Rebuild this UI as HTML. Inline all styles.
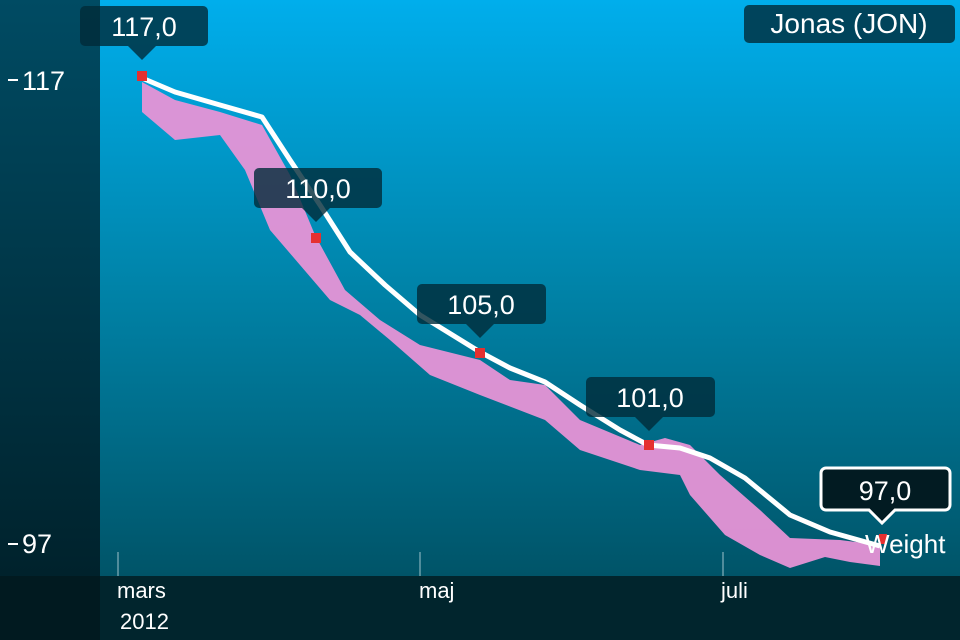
<!DOCTYPE html><html><head><style>
body{margin:0;width:960px;height:640px;overflow:hidden;font-family:"Liberation Sans",sans-serif}
</style></head><body>
<svg width="960" height="640" xmlns="http://www.w3.org/2000/svg" style="display:block">
<defs>
<linearGradient id="bg" x1="0" y1="0" x2="0" y2="1"><stop offset="0" stop-color="#00aeec"/><stop offset="0.5" stop-color="#0083a8"/><stop offset="1" stop-color="#005468"/></linearGradient>
<linearGradient id="lp" x1="0" y1="0" x2="0" y2="1"><stop offset="0" stop-color="#004b63"/><stop offset="1" stop-color="#00222c"/></linearGradient>
</defs>
<rect x="100" y="0" width="860" height="576" fill="url(#bg)"/>
<rect x="0" y="0" width="100" height="576" fill="url(#lp)"/>
<rect x="0" y="576" width="960" height="64" fill="#01252d"/>
<rect x="0" y="576" width="100" height="64" fill="#011a20"/>
<g stroke="#fff" stroke-width="2"><line x1="8" y1="80" x2="18" y2="80"/><line x1="8" y1="544" x2="18" y2="544"/></g>
<g fill="#fff" font-size="27"><text x="22" y="90">117</text><text x="22" y="553">97</text></g>
<g stroke="#9fc3cc" stroke-width="1"><line x1="118" y1="552" x2="118" y2="576"/><line x1="420" y1="552" x2="420" y2="576"/><line x1="723" y1="552" x2="723" y2="576"/></g>
<g fill="#fff" font-size="22"><text x="117" y="598">mars</text><text x="120" y="629">2012</text><text x="419" y="598">maj</text><text x="721" y="598">juli</text></g>
<polygon fill="#e693d6" opacity="0.95" points="142,82 175,100 220,112 262,125 290,175 315,235 345,290 380,320 420,345 480,360 510,380 545,385 580,420 640,445 665,438 690,445 720,475 760,510 790,538 840,540 880,545 880,566 850,562 825,557 790,568 760,555 725,535 690,495 680,475 640,470 580,450 545,420 480,395 430,375 390,340 360,315 330,300 300,265 270,230 245,170 220,135 175,140 142,112"/>
<polyline fill="none" stroke="#fff" stroke-width="5" stroke-linejoin="round" points="142,78 175,92 220,105 262,117 290,160 320,205 350,252 385,285 420,315 480,352 510,368 545,382 580,405 620,430 648,445 680,448 710,458 745,478 790,515 830,532 880,546"/>
<g fill="#e53030"><rect x="137" y="71" width="10" height="10"/><rect x="311" y="233" width="10" height="10"/><rect x="475" y="348" width="10" height="10"/><rect x="644" y="440" width="10" height="10"/><rect x="879" y="534" width="8" height="10"/></g>
<g fill="#002a38" fill-opacity="0.8">
<rect x="80" y="6" width="128" height="40" rx="5"/><polygon points="128,46 156,46 142,60"/>
<rect x="254" y="168" width="128" height="40" rx="5"/><polygon points="302,208 330,208 316,222"/>
<rect x="417" y="284" width="129" height="40" rx="5"/><polygon points="466,324 494,324 480,338"/>
<rect x="586" y="377" width="129" height="40" rx="5"/><polygon points="635,417 663,417 649,431"/>
<rect x="744" y="5" width="211" height="38" rx="5"/>
</g>
<g fill="#021b22" stroke="#fff" stroke-width="3"><path d="M826,468 H945 a5,5 0 0 1 5,5 V505 a5,5 0 0 1 -5,5 H895 L882,523 L869,510 H826 a5,5 0 0 1 -5,-5 V473 a5,5 0 0 1 5,-5 Z"/></g>
<g fill="#fff" font-size="27" text-anchor="middle">
<text x="144" y="36">117,0</text><text x="318" y="198">110,0</text><text x="481" y="314">105,0</text><text x="650" y="407">101,0</text><text x="885" y="500">97,0</text>
<text x="849" y="33" font-size="28">Jonas (JON)</text>
</g>
<text x="865" y="553" fill="#fff" font-size="26">Weight</text>
</svg>
</body></html>
